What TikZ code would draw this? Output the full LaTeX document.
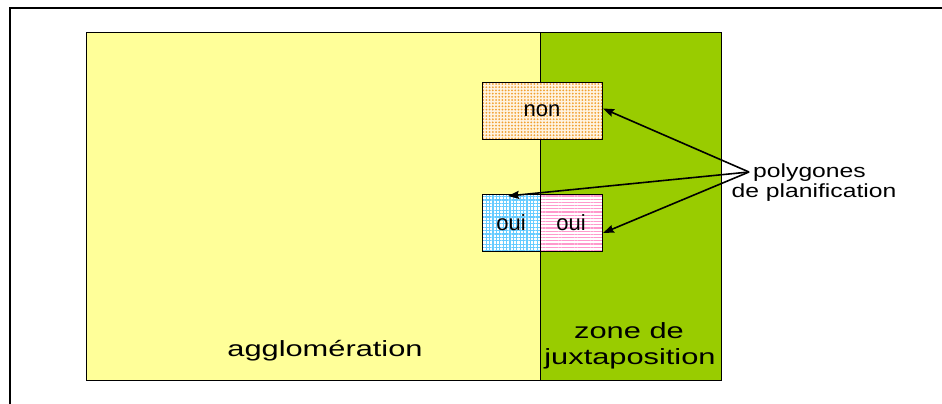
\documentclass[tikz,border=0pt]{standalone}
\usepackage{fontspec}
\setmainfont{Liberation Sans}
\newfontfamily\widefont[FakeStretch=1.4]{Liberation Sans}
\newfontfamily\notefont[FakeStretch=1.3]{Liberation Sans}
\usetikzlibrary{patterns.meta,arrows.meta,calc}
\definecolor{aggyellow}{HTML}{FFFF99}
\definecolor{juxgreen}{HTML}{99CC00}
\definecolor{dotorange}{HTML}{F0A030}
\definecolor{dotbg}{HTML}{FFF3E0}
\definecolor{gridblue}{HTML}{66CCFF}
\definecolor{stripepink}{HTML}{FF99CC}
\begin{document}
\begin{tikzpicture}[x=1pt,y=-1pt,
  zonebox/.style={draw=black, line width=1pt, inner sep=0pt, outer sep=0pt, anchor=north west},
  polybox/.style={draw=black, line width=1pt, inner sep=0pt, outer sep=0pt, preaction={fill=white},
    font=\fontsize{22}{26}\selectfont},
  bigtext/.style={anchor=base, font=\widefont\fontsize{22}{26}\selectfont},
  notetext/.style={anchor=base, font=\notefont\fontsize{19}{22}\selectfont},
  ptr/.style={line width=1.6pt, -{Stealth[length=11pt,width=8pt,inset=1.5pt]}}
]
\useasboundingbox (0,0) rectangle (942,404);
\fill[white] (0,0) rectangle (942,404);
\draw[line width=2pt] (10,404) -- (10,8) -- (942,8);

\node[zonebox, fill=aggyellow, minimum width=454pt, minimum height=347pt] (agg) at (86,33) {};
\node[zonebox, fill=juxgreen, minimum width=181pt, minimum height=347pt] (jux) at (540,33) {};

\node[polybox, preaction={fill=dotbg}, pattern={Dots[distance=3.2pt,radius=1pt]}, pattern color=dotorange,
  minimum width=120pt, minimum height=57pt] (non) at (542,110.5) {non};
\node[polybox, pattern={Hatch[angle=0,distance=3.4pt,line width=1.1pt]}, pattern color=gridblue,
  minimum width=58pt, minimum height=57pt] (ouiL) at (511,222.5) {oui};
\node[polybox, pattern={Lines[angle=0,distance=3.2pt,line width=1.3pt]}, pattern color=stripepink,
  minimum width=62pt, minimum height=57pt] (ouiR) at (571,222.5) {oui};

\node[bigtext] (aggl) at (325,356) {agglomération};
\node[bigtext] (zone1) at (629,338) {zone de};
\node[bigtext] (zone2) at (630,364) {juxtaposition};

\node[notetext] (pol1) at (809.5,177) {polygones};
\node[notetext] (pol2) at (814,197) {de planification};

\coordinate (hub) at (749,172);
\draw[ptr] (hub) -- ($(non.east)+(1,-2)$);
\draw[ptr] (hub) -- ($(ouiL.north)+(-3,2)$);
\draw[ptr] (hub) -- ($(ouiR.east)+(1,10.5)$);
\end{tikzpicture}
\end{document}
